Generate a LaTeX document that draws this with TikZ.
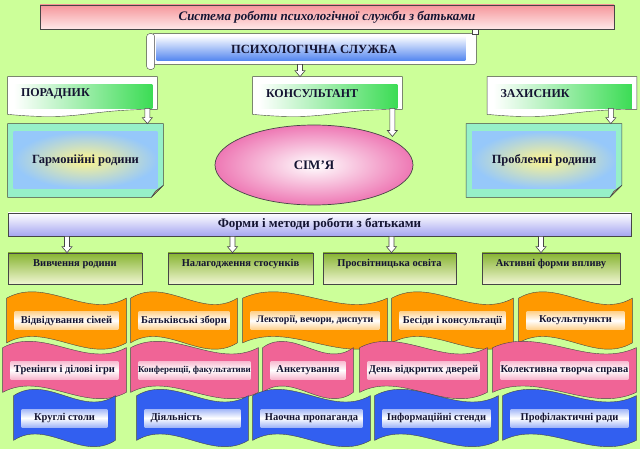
\documentclass[tikz,border=0pt]{standalone}
\usepackage{fontspec}
\setmainfont{Liberation Serif}
\usetikzlibrary{shapes.geometric,calc,backgrounds}
\definecolor{bgreen}{RGB}{204,255,153}
\definecolor{edge}{RGB}{70,70,70}
\definecolor{ink}{RGB}{20,20,50}
\definecolor{titletop}{RGB}{245,150,155}
\definecolor{titlebot}{RGB}{255,232,232}
\definecolor{scrollblue}{RGB}{85,135,240}
\definecolor{docgreen}{RGB}{60,220,85}
\definecolor{aqua}{RGB}{150,240,200}
\definecolor{glowblue}{RGB}{150,200,250}
\definecolor{glowyellow}{RGB}{255,245,140}
\definecolor{fold}{RGB}{205,165,115}
\definecolor{familypink}{RGB}{238,120,180}
\definecolor{lavender}{RGB}{165,165,240}
\definecolor{olive}{RGB}{135,180,50}
\definecolor{pale}{RGB}{240,246,210}
\definecolor{orw}{RGB}{255,153,0}
\definecolor{pkw}{RGB}{240,100,150}
\definecolor{blw}{RGB}{50,95,240}

\begin{document}
\begin{tikzpicture}[x=1pt,y=-1pt,line width=0.7pt,text=ink,
	bar node/.style={draw=edge,inner sep=0pt,font=\bfseries},
	doc node/.style={inner xsep=13pt,inner ysep=0pt,text width=123pt,minimum height=34pt,align=left,font=\bfseries\fontsize{12}{14}\selectfont},
	family node/.style={inner sep=0pt,minimum width=155pt,minimum height=73pt,font=\bfseries\fontsize{12.5}{14}\selectfont},
	method node/.style={draw=edge,inner sep=0pt,minimum width=#1,minimum height=31pt,text height=7pt,text depth=12pt,top color=olive,bottom color=pale,font=\bfseries\fontsize{10.5}{12}\selectfont},
	wave node/.style={inner sep=0pt,minimum width=#1,minimum height=44pt,font=\bfseries\fontsize{10.5}{12}\selectfont},
	hollow/.style={draw=edge,fill=white,line width=0.6pt,
		to path={let \p1=(\tikztostart),\p2=(\tikztotarget) in
			(\x1-2.5pt,\y1) -- (\x1+2.5pt,\y1) -- (\x1+2.5pt,\y2+6pt) -- (\x1+5pt,\y2+6pt)
			-- (\x1,\y2) -- (\x1-5pt,\y2+6pt) -- (\x1-2.5pt,\y2+6pt) -- cycle}}]
	\useasboundingbox (0,0) rectangle (640,449);

	\node[bar node,minimum width=574pt,minimum height=24pt,top color=titletop,bottom color=titlebot,
		font=\bfseries\itshape\fontsize{13}{15}\selectfont] (1) at (327,17) {Система роботи психологічної служби з батьками};
	\node[inner sep=0pt,minimum width=324pt,minimum height=30pt,font=\bfseries\fontsize{12.5}{14}\selectfont] (2) at (314,49) {ПСИХОЛОГІЧНА СЛУЖБА};
	\node[doc node] (3) at (82.5,94) {ПОРАДНИК};
	\node[doc node] (4) at (327.5,94) {КОНСУЛЬТАНТ};
	\node[doc node] (5) at (562,94) {ЗАХИСНИК};
	\node[family node] (6) at (85.5,160.5) {Гармонійні родини};
	\node[ellipse,draw=edge,inner color=white,outer color=familypink,minimum width=198pt,minimum height=80pt,
		font=\bfseries\fontsize{13}{15}\selectfont] (7) at (314,165) {СІМ’Я};
	\node[family node] (8) at (544,160.5) {Проблемні родини};
	\node[bar node,minimum width=623pt,minimum height=23pt,top color=white,bottom color=lavender,
		font=\bfseries\fontsize{13}{15}\selectfont] (9) at (319.5,224.5) {Форми і методи роботи з батьками};
	\node[method node=134pt] (10) at (75,268.5) {Вивчення родини};
	\node[method node=145pt] (11) at (240.5,268.5) {Налагодження стосунків};
	\node[method node=133pt] (12) at (389.5,268.5) {Просвітницька освіта};
	\node[method node=138pt] (13) at (551,268.5) {Активні форми впливу};

	\node[wave node=119pt] (14) at (66.5,320.5) {Відвідування сімей};
	\node[wave node=106pt] (15) at (184,320.5) {Батьківські збори};
	\node[wave node=144pt,font=\bfseries\fontsize{10}{12}\selectfont] (16) at (315,320.5) {Лекторії, вечори, диспути};
	\node[wave node=121pt] (17) at (452.5,320.5) {Бесіди і консультації};
	\node[wave node=113pt] (18) at (575.5,320.5) {Косультпункти};
	\node[wave node=123pt] (19) at (64.5,370) {Тренінги і ділові ігри};
	\node[wave node=127pt,font=\bfseries\fontsize{9}{11}\selectfont] (20) at (194.5,370) {Конференції, факультативи};
	\node[wave node=90pt] (21) at (308,370) {Анкетування};
	\node[wave node=127pt] (22) at (423.5,370) {День відкритих дверей};
	\node[wave node=143pt] (23) at (564.5,370) {Колективна творча справа};
	\node[wave node=101pt] (24) at (64.5,418) {Круглі столи};
	\node[wave node=111pt,text width=84pt,align=left] (25) at (192.5,418) {Діяльність};
	\node[wave node=117pt] (26) at (311.5,418) {Наочна пропаганда};
	\node[wave node=123pt] (27) at (436.5,418) {Інформаційні стенди};
	\node[wave node=133pt] (28) at (569.5,418) {Профілактичні ради};

	\path[every edge/.style={hollow}]
	([xshift=-14pt]2.south) edge (4.north)
	([xshift=-10pt,yshift=3pt]3.south east) edge (6.north)
	([xshift=-10pt,yshift=3pt]4.south east) edge (7.north east)
	([xshift=-26pt,yshift=3pt]5.south east) edge (8.north)
	([xshift=-8pt]10.north |- 9.south) edge (10.north)
	([xshift=-8pt]11.north |- 9.south) edge (11.north)
	([xshift=2pt]12.north |- 9.south) edge (12.north)
	([xshift=-10pt]13.north |- 9.south) edge (13.north);

	\begin{scope}[on background layer]
	\fill[bgreen] (0,0) rectangle (640,449);
	% scroll
	\draw[draw=edge,fill=white,rounded corners=2pt] (2.north west) rectangle (2.south east);
	\draw[draw=edge,fill=white,rounded corners=3pt] ($(2.north west)+(-5,0)$) rectangle ($(2.south west)+(3,5)$);
	\draw[draw=edge,fill=white] ($(2.north east)+(-4,1)$) rectangle ($(2.north east)+(2,-4)$);
	\fill[top color=white,bottom color=scrollblue] ($(2.north west)+(5,2)$) rectangle ($(2.south east)+(-11,-4)$);
	% roles
	\foreach \n in {3,4,5} {
		\draw[draw=edge,fill=white] (\n.north west) -- (\n.north east) -- ($(\n.south east)+(0,-2)$)
			.. controls ($(\n.south west)!0.5!(\n.south east)+(0,-2)$) and ($(\n.south west)!0.5!(\n.south east)+(0,10)$) .. ($(\n.south west)+(0,3)$) -- cycle;
		\fill[left color=white,right color=docgreen] ($(\n.north west)+(6,8)$) rectangle ($(\n.south east)+(-5,-3)$);
	}
	% families
	\foreach \n in {6,8} {
		\draw[draw=edge,fill=aqua] (\n.north west) -- (\n.north east) -- ($(\n.south east)+(0,-12)$)
			-- ($(\n.south east)+(-12,0)$) -- (\n.south west) -- cycle;
		\draw[draw=edge,fill=fold,line width=0.5pt] ($(\n.south east)+(0,-12)$) -- ($(\n.south east)+(-12,0)$) -- ($(\n.south east)+(-8,-6)$) -- cycle;
		\shade[inner color=glowyellow,outer color=glowblue] ($(\n.north west)+(6,8)$) rectangle ($(\n.south east)+(-6,-9)$);
	}
	% forms
	\foreach \n/\col in {14/orw,15/orw,16/orw,17/orw,18/orw,19/pkw,20/pkw,21/pkw,22/pkw,23/pkw,24/blw,25/blw,26/blw,27/blw,28/blw} {
		\draw[draw=edge,fill=\col] (\n.north west)
			.. controls ($(\n.north west)!0.33!(\n.north east)+(0,-22)$) and ($(\n.north west)!0.67!(\n.north east)+(0,22)$) .. (\n.north east)
			-- (\n.south east)
			.. controls ($(\n.south west)!0.67!(\n.south east)+(0,22)$) and ($(\n.south west)!0.33!(\n.south east)+(0,-22)$) .. (\n.south west) -- cycle;
		\fill[top color=\col!45!white,bottom color=\col!45!white,middle color=white] ($(\n.west)+(8,-9)$) rectangle ($(\n.east)+(-8,9)$);
	}
	\end{scope}
\end{tikzpicture}
\end{document}
